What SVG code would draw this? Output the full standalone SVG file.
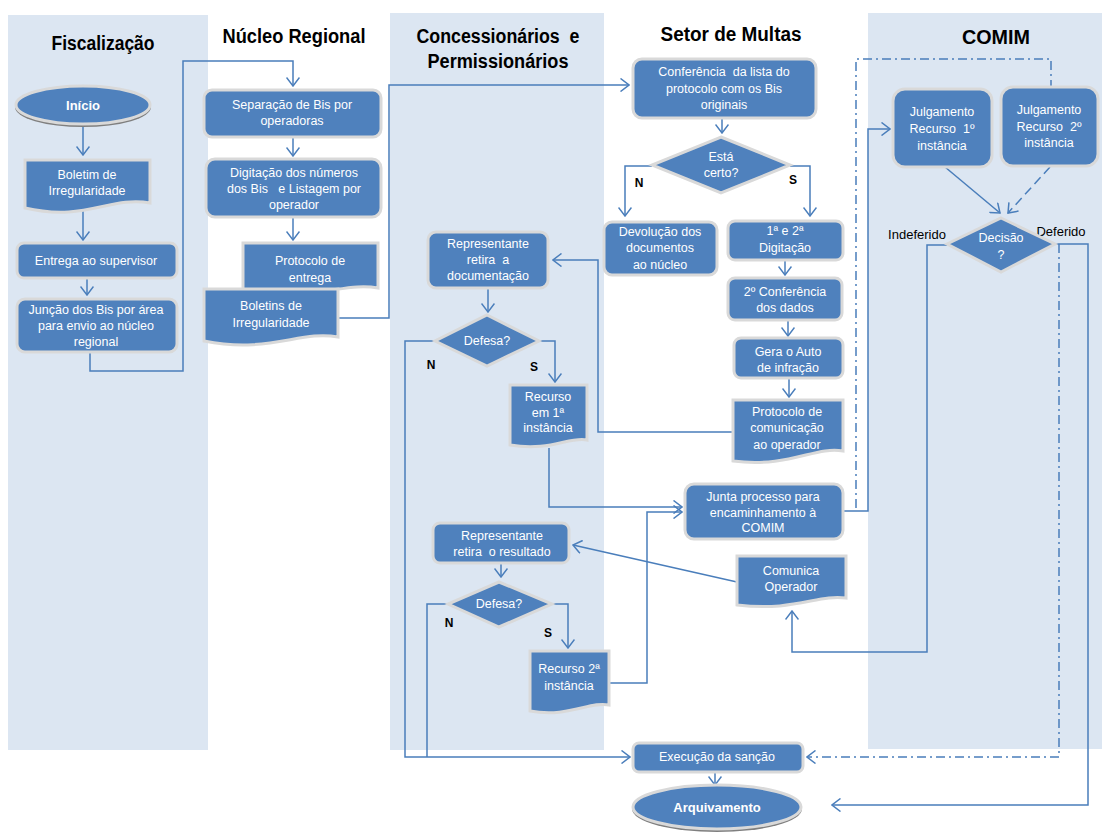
<svg xmlns="http://www.w3.org/2000/svg" width="1102" height="833" viewBox="0 0 1102 833">
<defs>
<style>
text{white-space:pre}
.lane{fill:#dce6f2}
.n{fill:#4f81bd;stroke:#d9d9d9;stroke-width:3}
.t{font-family:"Liberation Sans",Arial,sans-serif;font-size:12.5px;fill:#fff;text-anchor:middle}
.tb{font-family:"Liberation Sans",Arial,sans-serif;font-size:13px;font-weight:bold;fill:#fff;text-anchor:middle}
.h{font-family:"Liberation Sans",Arial,sans-serif;font-size:20px;font-weight:bold;fill:#000;text-anchor:middle}
.l{font-family:"Liberation Sans",Arial,sans-serif;font-size:12px;font-weight:bold;fill:#000;text-anchor:middle}
.lr{font-family:"Liberation Sans",Arial,sans-serif;font-size:13px;fill:#000;text-anchor:middle}
.c{fill:none;stroke:#4a7ebb;stroke-width:1.5}
.ca{fill:none;stroke:#4a7ebb;stroke-width:1.5;marker-end:url(#a)}
.dd{stroke-dasharray:9 4 2 4}
.ds{stroke-dasharray:9 5}
.sh{fill:#7f7f7f}
</style>
<marker id="a" viewBox="0 0 10 14" refX="9" refY="7" markerWidth="10" markerHeight="14" markerUnits="userSpaceOnUse" orient="auto">
<path d="M0.5,0.5 L9,7 L0.5,13.5" fill="none" stroke="#4a7ebb" stroke-width="1.5"/>
</marker>
</defs>
<rect width="1102" height="833" fill="#fff"/>
<g id="lanes">
<rect class="lane" x="8" y="15" width="200" height="735"/>
<rect class="lane" x="390" y="13" width="214" height="737"/>
<rect class="lane" x="868" y="13" width="234" height="736"/>
<text class="h" x="103" y="50" textLength="103" lengthAdjust="spacingAndGlyphs">Fiscalização</text>
<text class="h" x="294" y="43" textLength="143" lengthAdjust="spacingAndGlyphs">Núcleo Regional</text>
<text class="h" x="498" y="43" textLength="163" lengthAdjust="spacingAndGlyphs">Concessionários  e</text>
<text class="h" x="498" y="68" textLength="141" lengthAdjust="spacingAndGlyphs">Permissionários</text>
<text class="h" x="731" y="41" textLength="141" lengthAdjust="spacingAndGlyphs">Setor de Multas</text>
<text class="h" x="996" y="44" textLength="68" lengthAdjust="spacingAndGlyphs">COMIM</text>
</g>
<g id="connectors">
<path class="ca" d="M83,125 V155"/>
<path class="ca" d="M83,208 V240"/>
<path class="ca" d="M87,270 V295"/>
<path class="ca" d="M90,352 V371 H183 V61 H293 V86"/>
<path class="ca" d="M293,137 V156"/>
<path class="ca" d="M293,217 V240"/>
<path class="ca" d="M338,318 H389 V85 H629"/>
<path class="ca" d="M722,118 V133"/>
<path class="ca" d="M652,166 H625 V216"/>
<path class="ca" d="M790,166 H810 V216"/>
<path class="ca" d="M785,260 V275"/>
<path class="ca" d="M788,320 V336"/>
<path class="ca" d="M789,378 V397"/>
<path class="ca" d="M733,432 H598 V260 H553"/>
<path class="ca" d="M488,288 V312"/>
<path class="ca" d="M435,341 H405 V757 H630"/>
<path class="ca" d="M539,341 H555 V382"/>
<path class="ca" d="M549,448 V507 H682"/>
<path class="ca" d="M737,582 L573,545"/>
<path class="ca" d="M501,563 V577"/>
<path class="c" d="M448,604 H427 V757"/>
<path class="ca" d="M552,604 H568 V648"/>
<path class="ca" d="M609,683 H647 V512 H682"/>
<path class="ca" d="M715,772 V785"/>
<path class="ca" d="M843,511 H868 V129 H890"/>
<path class="c dd" d="M856,508 V59 H1051 V87"/>
<path class="ca" d="M945,167 L1000,213"/>
<path class="ca ds" d="M1050,167 L1008,213"/>
<path class="ca" d="M947,245 H927 V652 H792 V611"/>
<path class="ca" d="M1055,244 H1088 V805 H832"/>
<path class="ca dd" d="M1059,244 V757 H807"/>
<text class="l" x="639" y="187">N</text>
<text class="l" x="793" y="184">S</text>
<text class="l" x="431" y="369">N</text>
<text class="l" x="534" y="371">S</text>
<text class="l" x="449" y="627">N</text>
<text class="l" x="548" y="637">S</text>
<text class="lr" x="917" y="239">Indeferido</text>
<text class="lr" x="1061" y="236">Deferido</text>
</g>
<g id="inicio">
<ellipse class="sh" cx="83" cy="107" rx="68" ry="20"/>
<ellipse class="n" cx="83" cy="105" rx="67" ry="19"/>
<text class="tb" x="83" y="110">Início</text>
</g>
<g id="boletim">
<path class="n" d="M25,160 H150 V203 C110,196 85,222 25,208 Z"/>
<text class="t" x="87" y="179">Boletim de</text>
<text class="t" x="87" y="195">Irregularidade</text>
</g>
<g id="entrega">
<rect class="n" x="17" y="243" width="160" height="35" rx="7"/>
<text class="t" x="96" y="265">Entrega ao supervisor</text>
</g>
<g id="juncao">
<rect class="n" x="17" y="299" width="160" height="53" rx="8"/>
<text class="t" x="96" y="314">Junção dos Bis por área</text>
<text class="t" x="96" y="330">para envio ao núcleo</text>
<text class="t" x="96" y="346">regional</text>
</g>
<g id="separacao">
<rect class="n" x="204" y="90" width="177" height="47" rx="8"/>
<text class="t" x="292" y="109">Separação de Bis por</text>
<text class="t" x="292" y="125">operadoras</text>
</g>
<g id="digitacao-numeros">
<rect class="n" x="206" y="159" width="175" height="58" rx="9"/>
<text class="t" x="294" y="177">Digitação dos números</text>
<text class="t" x="294" y="193">dos Bis   e Listagem por</text>
<text class="t" x="294" y="209">operador</text>
</g>
<g id="protocolo-entrega">
<path class="n" d="M243,243 H378 V288 C345,282 320,300 243,292 Z"/>
<text class="t" x="310" y="265">Protocolo de</text>
<text class="t" x="310" y="282">entrega</text>
</g>
<g id="boletins">
<path class="n" d="M204,289 H338 V337 C300,330 270,354 204,341 Z"/>
<text class="t" x="271" y="310">Boletins de</text>
<text class="t" x="271" y="327">Irregularidade</text>
</g>
<g id="conferencia">
<rect class="n" x="633" y="59" width="183" height="59" rx="9"/>
<text class="t" x="724" y="76">Conferência  da lista do</text>
<text class="t" x="724" y="93">protocolo com os Bis</text>
<text class="t" x="724" y="109">originais</text>
</g>
<g id="esta-certo">
<path class="n" d="M721,137 L790,165 L721,193 L652,165 Z"/>
<text class="t" x="721" y="161">Está</text>
<text class="t" x="721" y="177">certo?</text>
</g>
<g id="devolucao">
<rect class="n" x="604" y="222" width="113" height="53" rx="8"/>
<text class="t" x="660" y="236">Devolução dos</text>
<text class="t" x="660" y="252">documentos</text>
<text class="t" x="660" y="269">ao núcleo</text>
</g>
<g id="digitacao">
<rect class="n" x="728" y="221" width="115" height="39" rx="7"/>
<text class="t" x="785" y="235">1ª e 2ª</text>
<text class="t" x="785" y="252">Digitação</text>
</g>
<g id="conferencia2">
<rect class="n" x="728" y="278" width="114" height="42" rx="7"/>
<text class="t" x="785" y="296">2º Conferência</text>
<text class="t" x="785" y="312">dos dados</text>
</g>
<g id="gera-auto">
<rect class="n" x="734" y="338" width="109" height="40" rx="7"/>
<text class="t" x="788" y="356">Gera o Auto</text>
<text class="t" x="788" y="372">de infração</text>
</g>
<g id="protocolo-comunicacao">
<path class="n" d="M733,400 H843 V451 C815,446 790,468 733,461 Z"/>
<text class="t" x="787" y="416">Protocolo de</text>
<text class="t" x="787" y="432">comunicação</text>
<text class="t" x="787" y="449">ao operador</text>
</g>
<g id="representante-doc">
<rect class="n" x="428" y="232" width="120" height="56" rx="8"/>
<text class="t" x="488" y="248">Representante</text>
<text class="t" x="488" y="264">retira  a</text>
<text class="t" x="488" y="280">documentação</text>
</g>
<g id="defesa1">
<path class="n" d="M487,315 L539,341 L487,366 L435,341 Z"/>
<text class="t" x="487" y="345">Defesa?</text>
</g>
<g id="recurso1">
<path class="n" d="M510,385 H587 V440 C570,436 550,452 510,445 Z"/>
<text class="t" x="548" y="401">Recurso</text>
<text class="t" x="548" y="417">em 1ª</text>
<text class="t" x="548" y="432">instância</text>
</g>
<g id="junta">
<rect class="n" x="685" y="484" width="158" height="55" rx="9"/>
<text class="t" x="763" y="501">Junta processo para</text>
<text class="t" x="763" y="517">encaminhamento à</text>
<text class="t" x="763" y="532">COMIM</text>
</g>
<g id="representante-res">
<rect class="n" x="433" y="523" width="136" height="40" rx="7"/>
<text class="t" x="502" y="540">Representante</text>
<text class="t" x="502" y="556">retira  o resultado</text>
</g>
<g id="comunica">
<path class="n" d="M737,556 H846 V598 C818,594 795,612 737,605 Z"/>
<text class="t" x="791" y="575">Comunica</text>
<text class="t" x="791" y="591">Operador</text>
</g>
<g id="defesa2">
<path class="n" d="M499,582 L552,604 L499,627 L448,604 Z"/>
<text class="t" x="499" y="608">Defesa?</text>
</g>
<g id="recurso2">
<path class="n" d="M530,651 H609 V705 C590,701 568,718 530,711 Z"/>
<text class="t" x="569" y="673">Recurso 2ª</text>
<text class="t" x="569" y="690">instância</text>
</g>
<g id="execucao">
<rect class="n" x="633" y="743" width="170" height="29" rx="6"/>
<text class="t" x="717" y="761">Execução da sanção</text>
</g>
<g id="arquivamento">
<ellipse class="sh" cx="717" cy="809" rx="85" ry="23"/>
<ellipse class="n" cx="717" cy="807" rx="84" ry="22"/>
<text class="tb" x="717" y="812">Arquivamento</text>
</g>
<g id="julgamento1">
<rect class="n" x="893" y="89" width="99" height="78" rx="12"/>
<text class="t" x="942" y="116">Julgamento</text>
<text class="t" x="942" y="133">Recurso  1º</text>
<text class="t" x="942" y="150">instância</text>
</g>
<g id="julgamento2">
<rect class="n" x="1001" y="87" width="97" height="79" rx="12"/>
<text class="t" x="1049" y="114">Julgamento</text>
<text class="t" x="1049" y="131">Recurso  2º</text>
<text class="t" x="1049" y="147">instância</text>
</g>
<g id="decisao">
<path class="n" d="M1001,218 L1055,244 L1001,272 L947,244 Z"/>
<text class="t" x="1001" y="242">Decisão</text>
<text class="t" x="1001" y="259">?</text>
</g>
</svg>
